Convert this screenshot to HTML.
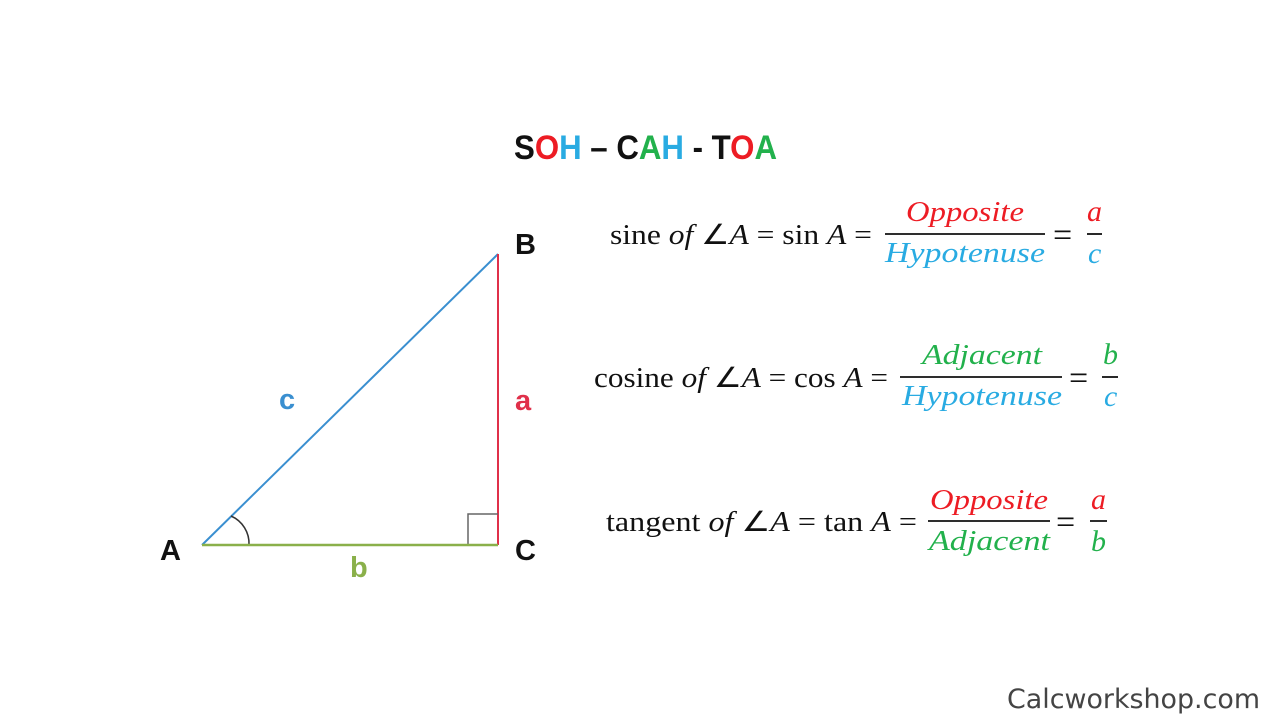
<!DOCTYPE html>
<html><head><style>body{margin:0;background:#fff}svg{display:block}</style></head><body>
<svg width="1280" height="720" viewBox="0 0 1280 720" xmlns="http://www.w3.org/2000/svg">
<rect width="1280" height="720" fill="#fff"/>
<text x="514" y="159" font-family="Liberation Sans, sans-serif" font-weight="bold" font-size="34" textLength="263" lengthAdjust="spacingAndGlyphs"><tspan fill="#111">S</tspan><tspan fill="#ed1c24">O</tspan><tspan fill="#29abe2">H</tspan><tspan fill="#111"> – C</tspan><tspan fill="#22b14c">A</tspan><tspan fill="#29abe2">H</tspan><tspan fill="#111"> - T</tspan><tspan fill="#ed1c24">O</tspan><tspan fill="#22b14c">A</tspan></text>
<line x1="202" y1="545" x2="498" y2="254" stroke="#3a8fd0" stroke-width="2"/>
<line x1="498" y1="254" x2="498" y2="545" stroke="#e0304a" stroke-width="2"/>
<polyline points="468,545 468,514 498,514" fill="none" stroke="#666" stroke-width="1.5"/>
<path d="M231,516 A30,30 0 0 1 249,545" fill="none" stroke="#333" stroke-width="1.5"/>
<line x1="202" y1="545" x2="498" y2="545" stroke="#8ab04a" stroke-width="2.5"/>
<g font-family="Liberation Sans, sans-serif" font-weight="bold" font-size="29">
<text x="160" y="560" fill="#111">A</text>
<text x="515" y="254" fill="#111">B</text>
<text x="515" y="560" fill="#111">C</text>
<text x="279" y="409" fill="#3a8fd0">c</text>
<text x="515" y="410" fill="#e0304a">a</text>
<text x="350" y="577" fill="#8ab04a">b</text>
</g>
<g font-family="Liberation Serif, serif" font-size="28" fill="#111">
<text x="610" y="244" textLength="262" lengthAdjust="spacingAndGlyphs">sine <tspan font-style="italic">of</tspan> ∠<tspan font-style="italic">A</tspan> = sin <tspan font-style="italic">A</tspan> =</text>
<line x1="885" y1="234" x2="1045" y2="234" stroke="#111" stroke-width="1.8"/>
<text x="906" y="221" fill="#ed1c24" font-style="italic" font-size="29" textLength="118" lengthAdjust="spacingAndGlyphs">Opposite</text>
<text x="885" y="262" fill="#29abe2" font-style="italic" font-size="29" textLength="160" lengthAdjust="spacingAndGlyphs">Hypotenuse</text>
<text x="1053" y="246" font-size="34">=</text>
<line x1="1087" y1="234" x2="1102" y2="234" stroke="#111" stroke-width="1.8"/>
<text x="1087" y="221" fill="#ed1c24" font-style="italic" font-size="30">a</text>
<text x="1088" y="263" fill="#29abe2" font-style="italic" font-size="30">c</text>

<text x="594" y="387" textLength="294" lengthAdjust="spacingAndGlyphs">cosine <tspan font-style="italic">of</tspan> ∠<tspan font-style="italic">A</tspan> = cos <tspan font-style="italic">A</tspan> =</text>
<line x1="900" y1="377" x2="1062" y2="377" stroke="#111" stroke-width="1.8"/>
<text x="922" y="364" fill="#22b14c" font-style="italic" font-size="29" textLength="120" lengthAdjust="spacingAndGlyphs">Adjacent</text>
<text x="902" y="405" fill="#29abe2" font-style="italic" font-size="29" textLength="160" lengthAdjust="spacingAndGlyphs">Hypotenuse</text>
<text x="1069" y="389" font-size="34">=</text>
<line x1="1102" y1="377" x2="1118" y2="377" stroke="#111" stroke-width="1.8"/>
<text x="1103" y="364" fill="#22b14c" font-style="italic" font-size="30">b</text>
<text x="1104" y="406" fill="#29abe2" font-style="italic" font-size="30">c</text>

<text x="606" y="531" textLength="311" lengthAdjust="spacingAndGlyphs">tangent <tspan font-style="italic">of</tspan> ∠<tspan font-style="italic">A</tspan> = tan <tspan font-style="italic">A</tspan> =</text>
<line x1="928" y1="521" x2="1050" y2="521" stroke="#111" stroke-width="1.8"/>
<text x="930" y="509" fill="#ed1c24" font-style="italic" font-size="29" textLength="118" lengthAdjust="spacingAndGlyphs">Opposite</text>
<text x="929" y="550" fill="#22b14c" font-style="italic" font-size="29" textLength="121" lengthAdjust="spacingAndGlyphs">Adjacent</text>
<text x="1056" y="533" font-size="34">=</text>
<line x1="1090" y1="521" x2="1107" y2="521" stroke="#111" stroke-width="1.8"/>
<text x="1091" y="509" fill="#ed1c24" font-style="italic" font-size="30">a</text>
<text x="1091" y="551" fill="#22b14c" font-style="italic" font-size="30">b</text>
</g>
<text x="1007" y="708" font-family="DejaVu Sans, Liberation Sans, sans-serif" font-size="27" fill="#444" textLength="253" lengthAdjust="spacingAndGlyphs">Calcworkshop.com</text>
</svg>
</body></html>
